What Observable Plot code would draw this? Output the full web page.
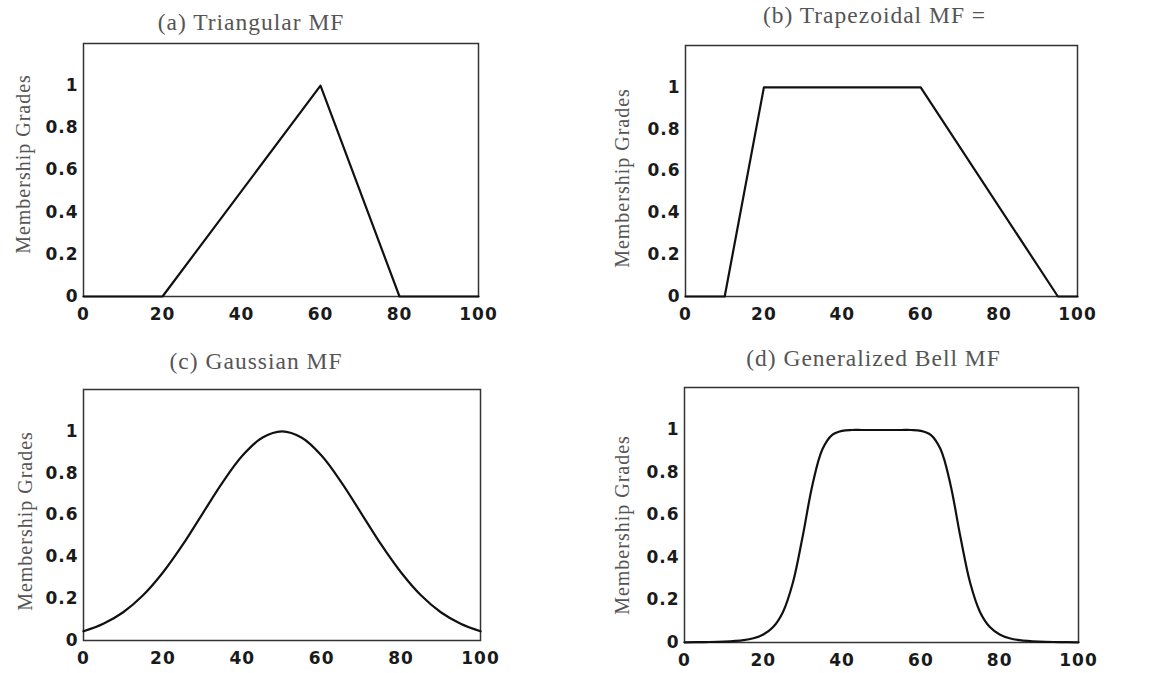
<!DOCTYPE html>
<html>
<head>
<meta charset="utf-8">
<script src="https://cdn.jsdelivr.net/npm/d3@7"></script>
<script src="https://cdn.jsdelivr.net/npm/@observablehq/plot@0.6"></script>
<style>
  html, body { margin: 0; padding: 0; background: #fff; }
  #wrap { position: relative; width: 1163px; height: 673px; overflow: hidden; }
  .cell { position: absolute; }
  .cell svg { overflow: visible; }
</style>
</head>
<body>
<div id="wrap"></div>
<script>
// ---- data ----
const xTicks = [0, 20, 40, 60, 80, 100];
const yTicks = [0, 0.2, 0.4, 0.6, 0.8, 1];
const yLabel = "Membership Grades";

const titles = ["(a) Triangular MF", "(b) Trapezoidal MF =", "(c) Gaussian MF", "(d) Generalized Bell MF"];

const xTri = [0, 20, 60, 80, 100];
const yTri = [0, 0, 1, 0, 0];

const xTrap = [0, 10, 20, 60, 95, 100];
const yTrap = [0, 0, 1, 1, 0, 0];

const xGauss = [0, 5, 10, 15, 20, 25, 30, 35, 40, 45, 50, 55, 60, 65, 70, 75, 80, 85, 90, 95, 100];
const yGauss = [0.044, 0.080, 0.135, 0.216, 0.325, 0.458, 0.607, 0.755, 0.883, 0.969, 1, 0.969, 0.883, 0.755, 0.607, 0.458, 0.325, 0.216, 0.135, 0.080, 0.044];

const xBell = [0, 5, 10, 15, 17.5, 20, 22.5, 25, 27.5, 30, 32.5, 35, 37.5, 40, 42.5, 45, 50, 55, 57.5, 60, 62.5, 65, 67.5, 70, 72.5, 75, 77.5, 80, 82.5, 85, 90, 95, 100];
const yBell = [0.001, 0.002, 0.004, 0.011, 0.020, 0.038, 0.073, 0.144, 0.281, 0.5, 0.744, 0.909, 0.977, 0.996, 1.0, 1.0, 1, 1.0, 1.0, 0.996, 0.977, 0.909, 0.744, 0.5, 0.281, 0.144, 0.073, 0.038, 0.020, 0.011, 0.004, 0.002, 0.001];

// ---- layout of the four panels ----
const panels = [
  {xs: xTri, ys: yTri, curve: "linear", title: titles[0], left: 0, top: 0, w: 580, h: 340, ml: 83, mr: 102, mt: 43, mb: 44, tdx: -30, tdy: -21, ldx: -60, ldy: -6},
  {xs: xTrap, ys: yTrap, curve: "linear", title: titles[1], left: 580, top: 0, w: 583, h: 340, ml: 105, mr: 86, mt: 45, mb: 44, tdx: -7, tdy: -30, ldx: -63, ldy: 7},
  {xs: xGauss, ys: yGauss, curve: "catmull-rom", title: titles[2], left: 0, top: 340, w: 580, h: 333, ml: 83, mr: 100, mt: 49, mb: 33, tdx: -26, tdy: -28, ldx: -58, ldy: 6},
  {xs: xBell, ys: yBell, curve: "catmull-rom", title: titles[3], left: 580, top: 340, w: 583, h: 333, ml: 104, mr: 85, mt: 47, mb: 31, tdx: -8, tdy: -29, ldx: -62, ldy: 10}
];

const wrap = document.getElementById("wrap");
for (const p of panels) {
  const data = p.xs.map((x, i) => ({x, y: p.ys[i]}));
  const chart = Plot.plot({
    width: p.w, height: p.h,
    marginLeft: p.ml, marginRight: p.mr, marginTop: p.mt, marginBottom: p.mb,
    x: {domain: [0, 100], label: null},
    y: {domain: [0, 1.2], label: null},
    style: {background: "transparent", color: "#1a1a1a", letterSpacing: "1px", overflow: "visible"},
    marks: [
      Plot.axisX({ticks: xTicks, tickSize: 0, tickPadding: 11, tickFormat: d => String(d), label: null,
        fontFamily: "DejaVu Sans", fontWeight: "bold", fontSize: 17}),
      Plot.axisY({ticks: yTicks, tickSize: 0, tickPadding: 5, tickFormat: d => String(d), label: null,
        fontFamily: "DejaVu Sans", fontWeight: "bold", fontSize: 17}),
      Plot.frame({stroke: "#333", strokeWidth: 1.5}),
      Plot.line(data, {x: "x", y: "y", curve: p.curve, stroke: "#111", strokeWidth: 2.2}),
      Plot.text([p.title], {frameAnchor: "top", textAnchor: "middle", lineAnchor: "middle", dx: p.tdx, dy: p.tdy,
        fontFamily: "Liberation Serif", fontSize: 23.5, fill: "#555", style: "letter-spacing:1.5px"}),
      Plot.text([yLabel], {frameAnchor: "left", textAnchor: "middle", lineAnchor: "middle", rotate: -90, dx: p.ldx, dy: p.ldy,
        fontFamily: "Liberation Serif", fontSize: 20, fill: "#555", style: "letter-spacing:1.5px"})
    ]
  });
  const cell = document.createElement("div");
  cell.className = "cell";
  cell.style.left = p.left + "px";
  cell.style.top = p.top + "px";
  cell.style.width = p.w + "px";
  cell.style.height = p.h + "px";
  cell.appendChild(chart);
  wrap.appendChild(cell);
}
</script>
</body>
</html>
